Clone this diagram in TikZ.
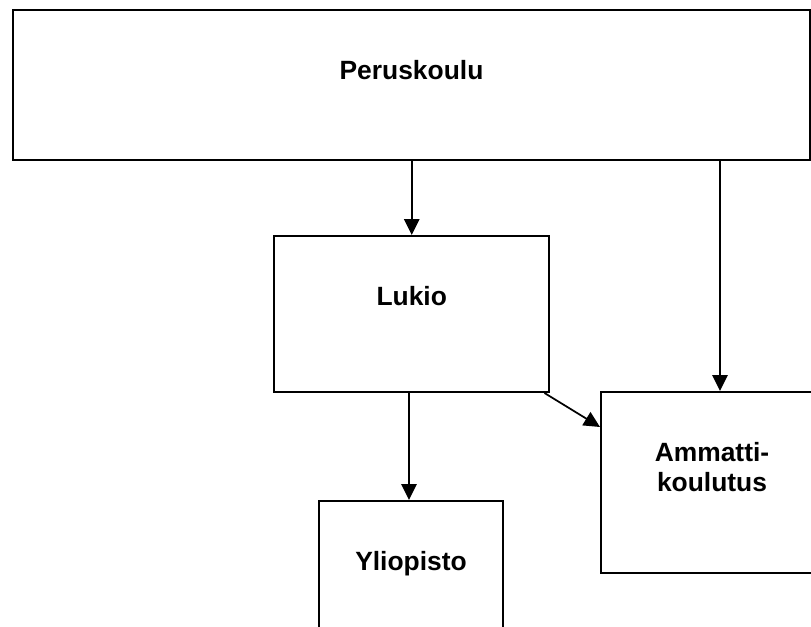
\documentclass[tikz,border=0pt]{standalone}
\usepackage{fontspec}
\setmainfont{Liberation Sans}
\usetikzlibrary{arrows.meta}
\tikzset{
	box/.style={draw, line width=1.5pt, inner sep=0pt, text height=51.75pt, font=\bfseries\fontsize{19.8}{23}\selectfont},
	link/.style={line width=1.3pt, -{Triangle[length=12pt, width=11.5pt]}}
}

\begin{document}
\begin{tikzpicture}[x=0.75pt, y=-0.75pt]
			%%%%% FRAME %%%%%
			\useasboundingbox (0, 0) rectangle (811, 626);
			\clip (0, 0) rectangle (811, 626);
			
			%%%%% BOXES %%%%%
			\node[box, minimum width=597.75pt, text depth=60.75pt] (peruskoulu) at (411.5, 85) {Peruskoulu};
			\node[box, minimum width=206.6pt, text depth=65.25pt] (lukio) at (411.75, 314) {Lukio};
			\node[box, minimum width=166.5pt, text depth=84pt] (ammatti) at (712, 482.5) {\parbox[t]{150pt}{\centering Ammatti-\\koulutus}};
			\node[box, minimum width=138pt, text depth=84pt] (yliopisto) at (411, 591.5) {Yliopisto};
			
			%%%%% LINKS %%%%%
			\draw[link] (lukio.north |- peruskoulu.south) -- (lukio.north);
			\draw[link] ([xshift=6pt]ammatti.north |- peruskoulu.south) -- ([xshift=6pt]ammatti.north);
			\draw[link] ([xshift=-1.5pt]yliopisto.north |- lukio.south) -- ([xshift=-1.5pt]yliopisto.north);
			\draw[link] ([xshift=-4.5pt]lukio.south east) -- ([yshift=-27pt]ammatti.north west);
			
			%%%%% END %%%%%
\end{tikzpicture}
\end{document}
